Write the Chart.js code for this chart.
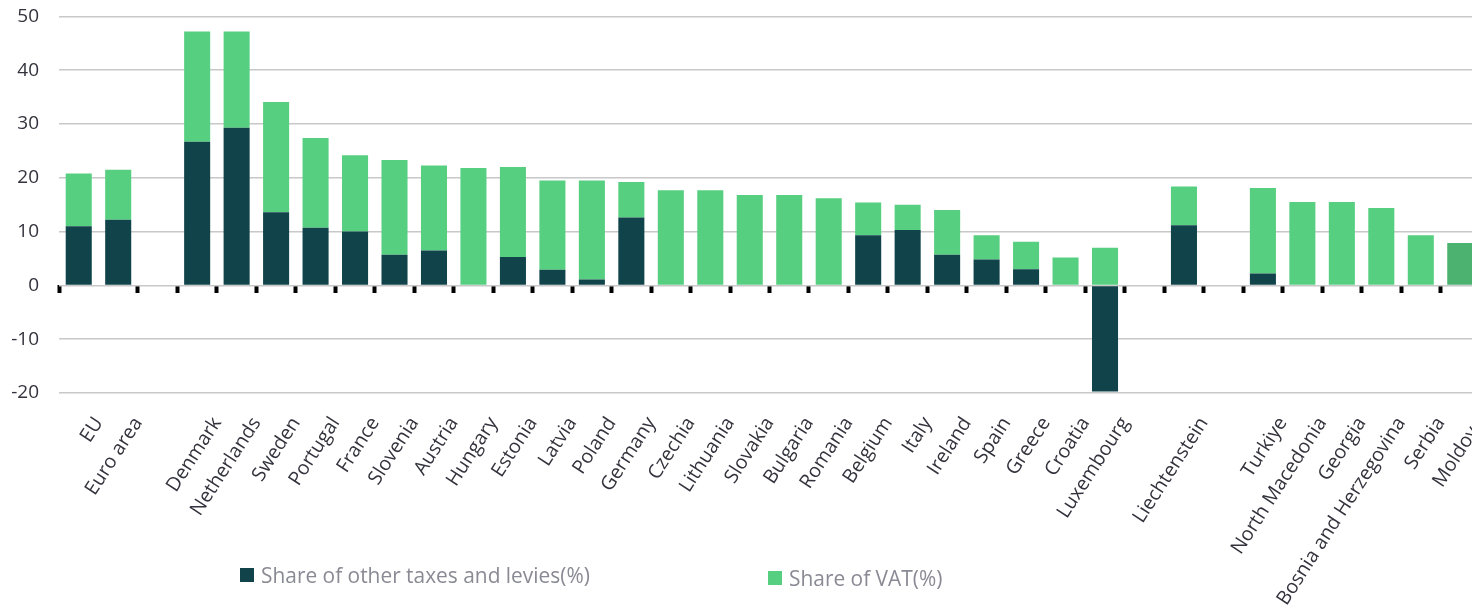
<!DOCTYPE html>
<html>
<head>
<meta charset="utf-8">
<title>Share of taxes</title>
<script src="https://cdn.jsdelivr.net/npm/chart.js@4.4.0/dist/chart.umd.min.js"></script>
<style>
    body { margin: 0; background: #fff; overflow: hidden; font-family: 'Open Sans', sans-serif; }
    #wrap { position: relative; width: 1472px; height: 613px; overflow: hidden; }
    #taxChart { position: absolute; left: 0; top: -15px; }
    .legend-item { position: absolute; display: flex; align-items: center; font-size: 20.9px; color: #8a8a94; white-space: nowrap; }
    .legend-item .box { width: 14px; height: 14px; margin-right: 7px; }
</style>
</head>
<body>
<div id="wrap">
    <canvas id="taxChart" width="1481" height="628"></canvas>
    <div class="legend-item" style="left:240px; top:561px;"><span class="box" style="background:#10434a"></span>Share of other taxes and levies(%)</div>
    <div class="legend-item" style="left:768px; top:564px;"><span class="box" style="background:#57cf80"></span>Share of VAT(%)</div>
</div>
<script>
// categories, empty strings are spacer columns between groups
var countries = ['EU', 'Euro area', '', 'Denmark', 'Netherlands', 'Sweden', 'Portugal', 'France', 'Slovenia',
    'Austria', 'Hungary', 'Estonia', 'Latvia', 'Poland', 'Germany', 'Czechia', 'Lithuania', 'Slovakia',
    'Bulgaria', 'Romania', 'Belgium', 'Italy', 'Ireland', 'Spain', 'Greece', 'Croatia', 'Luxembourg', '',
    'Liechtenstein', '', 'Turkiye', 'North Macedonia', 'Georgia', 'Bosnia and Herzegovina', 'Serbia', 'Moldova'];

// share of other taxes and levies (%)
var otherTaxes = [11.0, 12.2, null, 26.7, 29.3, 13.6, 10.7, 10.0, 5.7,
    6.5, 0, 5.3, 2.9, 1.1, 12.6, 0, 0, 0,
    0, 0, 9.3, 10.3, 5.7, 4.8, 3.0, 0, -19.7, null,
    11.2, null, 2.2, 0, 0, 0, 0, 0];

// share of VAT (%)
var vatShare = [9.8, 9.3, null, 20.5, 17.9, 20.5, 16.7, 14.2, 17.6,
    15.8, 21.8, 16.7, 16.6, 18.4, 6.6, 17.7, 17.7, 16.8,
    16.8, 16.2, 6.1, 4.7, 8.3, 4.5, 5.1, 5.2, 7.0, null,
    7.2, null, 15.9, 15.5, 15.5, 14.4, 9.3, 7.9];

// y axis range
var yMin = -20;
var yMax = 50;
var yStep = 10;

var darkTeal = '#10434a';
var green = '#57cf80';
var greenActive = '#4cb26f';

function loadTaxChart() {
    const ctx = document.getElementById('taxChart');

    const config = {
        type: 'bar',
        data: {
            labels: countries,
            datasets: [{
                label: 'Share of other taxes and levies(%)',
                data: otherTaxes,
                backgroundColor: darkTeal,
                categoryPercentage: 0.66,
                barPercentage: 1
            }, {
                label: 'Share of VAT(%)',
                data: vatShare,
                backgroundColor: function (c) {
                    return countries[c.dataIndex] === 'Moldova' ? greenActive : green;
                },
                categoryPercentage: 0.66,
                barPercentage: 1
            }]
        },
        options: {
            responsive: false,
            animation: false,
            events: [],
            layout: { padding: { top: 1, right: 1, bottom: 0, left: 0 } },
            plugins: {
                legend: { display: false },
                tooltip: { enabled: false }
            },
            scales: {
                x: {
                    stacked: true,
                    grid: { display: false },
                    border: { display: false },
                    ticks: {
                        autoSkip: false,
                        minRotation: 57,
                        maxRotation: 57,
                        padding: 12,
                        labelOffset: 20,
                        color: '#33333d',
                        font: { family: 'Open Sans', size: 19.5 }
                    },
                    afterFit: function (axis) {
                        // fixed label band, and let the last column run to the edge
                        axis.height = 220;
                        axis.paddingLeft = 0;
                        axis.paddingRight = 0;
                    }
                },
                // tick marks sitting on the zero line
                x2: {
                    type: 'category',
                    position: { y: 0 },
                    offset: true,
                    border: { display: false },
                    grid: {
                        offset: true,
                        drawOnChartArea: false,
                        tickLength: 8,
                        tickWidth: 4,
                        tickColor: function (c) { return c.index === 1 ? 'rgba(0,0,0,0)' : '#000'; }
                    },
                    ticks: { display: false }
                },
                y: {
                    stacked: true,
                    min: yMin,
                    max: yMax,
                    border: { display: false },
                    grid: { color: '#c8c8c8', lineWidth: 1.5, drawTicks: false },
                    ticks: {
                        stepSize: yStep,
                        padding: 20,
                        color: '#33333d',
                        font: { family: 'Open Sans', size: 19 }
                    },
                    afterFit: function (axis) { axis.width = 59; }
                }
            }
        }
    };

    new Chart(ctx, config);
}

loadTaxChart();
</script>
</body>
</html>
